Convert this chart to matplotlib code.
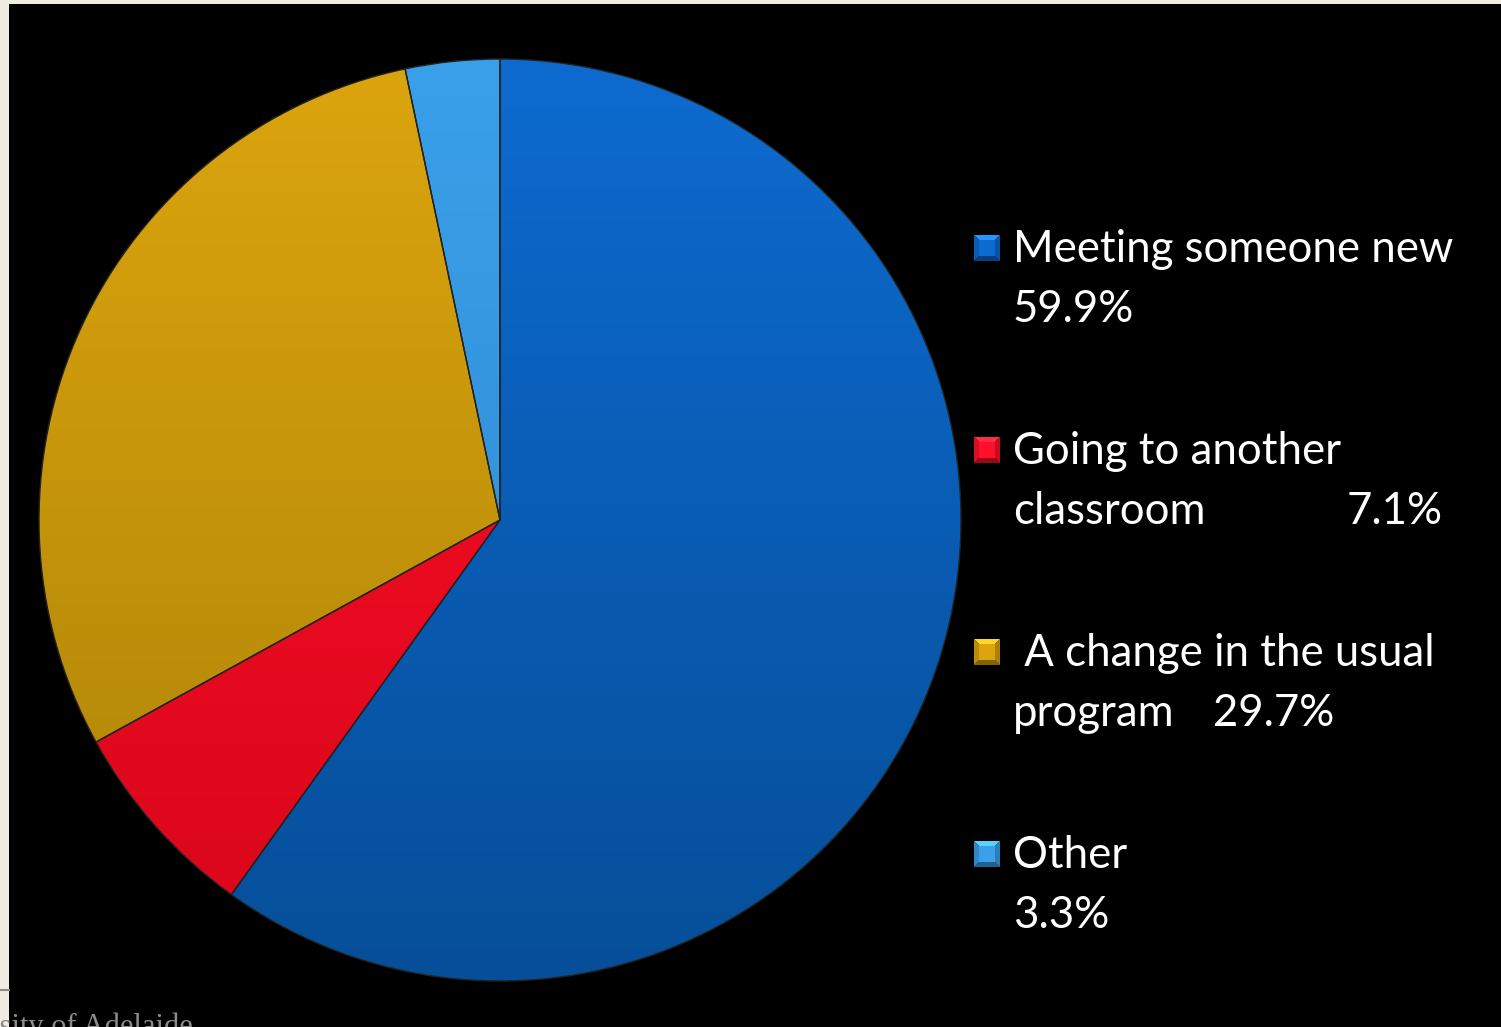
import numpy as np
import matplotlib.pyplot as plt
from matplotlib.colors import to_rgb
from matplotlib.patches import Rectangle, Polygon

labels = ["Meeting someone new", "Going to another\nclassroom", " A change in the usual\nprogram", "Other"]
shares = [59.9, 7.1, 29.7, 3.3]
# light (top) / dark (bottom) shade for each slice
tops = ["#0d6bd0", "#ff1028", "#dca50e", "#3aa0ea"]
bottoms = ["#064e98", "#d8061a", "#ab8207", "#2d86cc"]

W, H = 1501, 1027
fig = plt.figure(figsize=(W / 100, H / 100), dpi=100, facecolor="#efece2")

# black slide area
bg = fig.add_axes([9 / W, 0, 1 - 9 / W, 1 - 4 / H])
bg.set_facecolor("black")
bg.set_axis_off()
bg.add_patch(Rectangle((0, 0), 1, 1, transform=bg.transAxes, color="black", zorder=0))

cx, cy, r = 500, 520, 461
ax = fig.add_axes([(cx - r) / W, (H - cy - r) / H, 2 * r / W, 2 * r / H])
ax.set_axis_off()
ax.patch.set_alpha(0)

wedges, _ = ax.pie(shares, startangle=90, counterclock=False, radius=1,
                   wedgeprops=dict(linewidth=1.0, edgecolor="#222222"))

f = (1 - np.linspace(1, -1, 400)) / 2
for w, t, b in zip(wedges, tops, bottoms):
    t, b = np.array(to_rgb(t)), np.array(to_rgb(b))
    grad = t[None, :] * (1 - f[:, None]) + b[None, :] * f[:, None]
    img = np.repeat(grad[:, None, :], 4, axis=1)
    w.set_facecolor("none")
    im = ax.imshow(img, extent=(-1, 1, -1, 1), aspect="auto", zorder=0.5,
                   interpolation="bilinear")
    im.set_clip_path(w)
    w.set_zorder(1)

ax.set_xlim(-1, 1)
ax.set_ylim(-1, 1)


def px(p):
    return [(x / W, 1 - y / H) for x, y in p]


def bevel_marker(x0, y0, size, color):
    # small pyramid-style square, (x0, y0) is its top-left pixel
    c = np.array(to_rgb(color))
    light = np.clip(c * 1.15 + 0.1, 0, 1)
    dark = c * 0.6
    x1, y1 = x0 + size, y0 + size
    mx, my = x0 + size / 2, y0 + size / 2
    faces = [
        ([(x0, y0), (x1, y0), (mx, my)], light),
        ([(x0, y1), (x1, y1), (mx, my)], dark),
        ([(x0, y0), (x0, y1), (mx, my)], c * 0.85),
        ([(x1, y0), (x1, y1), (mx, my)], c * 0.78),
    ]
    for pts, col in faces:
        fig.add_artist(Polygon(px(pts), closed=True, facecolor=col,
                               edgecolor="none", transform=fig.transFigure))
    inset = size * 0.2
    fig.add_artist(Polygon(px([(x0 + inset, y0 + inset), (x1 - inset, y0 + inset),
                               (x1 - inset, y1 - inset), (x0 + inset, y1 - inset)]),
                           closed=True, facecolor=c, edgecolor="none",
                           transform=fig.transFigure))


font = dict(color="white", fontsize=31.5, family="Lato")
entry_y = [262, 464, 666, 868]
for i, (lab, v, col) in enumerate(zip(labels, shares, tops)):
    y0 = entry_y[i]
    bevel_marker(974, y0 - 27, 26, col)
    lines = lab.split("\n")
    fig.text(1013 / W, 1 - y0 / H, lines[0], va="baseline", ha="left", **font)
    pct = f"{v:.1f}%"
    y1 = 1 - (y0 + 60) / H
    if i == 0 or i == 3:
        fig.text(1013 / W, y1, pct, va="baseline", ha="left", **font)
    elif i == 1:
        fig.text(1013 / W, y1, lines[1], va="baseline", ha="left", **font)
        fig.text(1443 / W, y1, pct, va="baseline", ha="right", **font)
    else:
        fig.text(1013 / W, y1, lines[1], va="baseline", ha="left", **font)
        fig.text(1213 / W, y1, pct, va="baseline", ha="left", **font)

# footer remnants
fig.add_artist(plt.Line2D([0, 9 / W], [1 - 990 / H] * 2, color="#8a8a8a", lw=1.5,
                          transform=fig.transFigure))
fig.text(193 / W, 1 - 1012 / H, "The University of Adelaide", color="#8c8c8c",
         fontsize=22, family="Liberation Serif", ha="right", va="top")

fig.savefig("out.png", dpi=100, facecolor=fig.get_facecolor())
